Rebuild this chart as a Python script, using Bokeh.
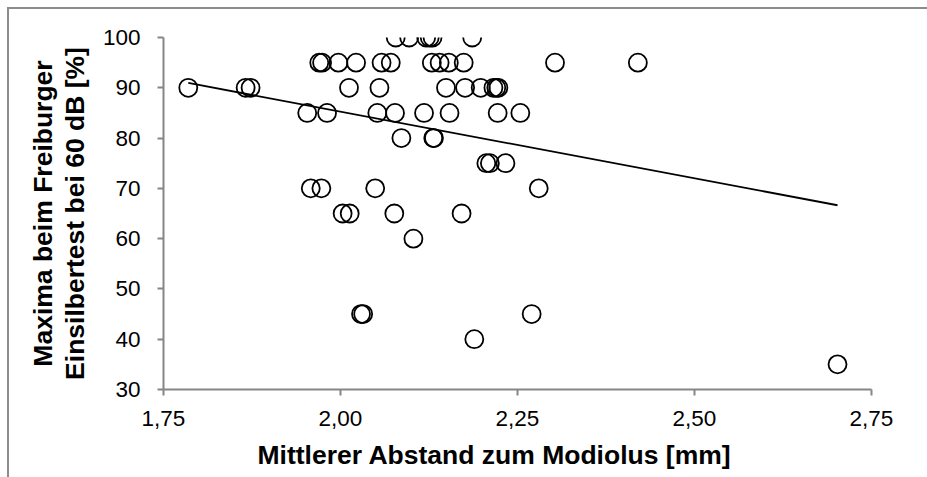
import numpy as np
from bokeh.plotting import figure
from bokeh.models import Range1d, FixedTicker, Title, CustomJSTickFormatter
from bokeh.embed import file_html
from bokeh.resources import INLINE

# --- data ---
# mean distance to modiolus [mm] grouped by score
x_at_100 = [2.078, 2.097, 2.121, 2.126, 2.130, 2.186]
x_at_95 = [1.970, 1.974, 1.997, 2.022, 2.058, 2.071, 2.129, 2.140, 2.153, 2.174, 2.303, 2.420]
x_at_90 = [1.785, 1.866, 1.873, 2.012, 2.055, 2.149, 2.176, 2.198, 2.216, 2.220, 2.223]
x_at_85 = [1.953, 1.981, 2.052, 2.077, 2.118, 2.154, 2.222, 2.254]
x_at_80 = [2.086, 2.131, 2.132]
x_at_75 = [2.206, 2.211, 2.233]
x_at_70 = [1.958, 1.973, 2.049, 2.280]
x_at_65 = [2.003, 2.013, 2.076, 2.171]
x_at_60 = [2.103]
x_at_45 = [2.029, 2.032, 2.270]
x_at_40 = [2.189]
x_at_35 = [2.702]

groups = [(100, x_at_100), (95, x_at_95), (90, x_at_90), (85, x_at_85), (80, x_at_80),
          (75, x_at_75), (70, x_at_70), (65, x_at_65), (60, x_at_60), (45, x_at_45),
          (40, x_at_40), (35, x_at_35)]

x_ticks = [1.75, 2.00, 2.25, 2.50, 2.75]
x_tick_labels = ["1,75", "2,00", "2,25", "2,50", "2,75"]
y_ticks = [30, 40, 50, 60, 70, 80, 90, 100]

x_title = "Mittlerer Abstand zum Modiolus [mm]"
y_title = "Maxima beim Freiburger\nEinsilbertest bei 60 dB [%]"

xs = []
ys = []
for score, vals in groups:
    xs.extend(vals)
    ys.extend([score] * len(vals))
xs = np.array(xs)
ys = np.array(ys, dtype=float)

slope, intercept = np.polyfit(xs, ys, 1)
trend_x = np.array([xs.min(), xs.max()])
trend_y = slope * trend_x + intercept

FONT = "Liberation Sans"
AXIS_GREY = "#868686"

p = figure(width=918, height=468,
           x_range=Range1d(1.75, 2.75), y_range=Range1d(30, 100),
           output_backend="svg", toolbar_location=None,
           min_border_left=154, min_border_right=58,
           min_border_top=28, min_border_bottom=89)
p.outline_line_color = None
p.grid.visible = False
p.background_fill_color = "white"
p.border_fill_color = "white"
p.styles = {"box-sizing": "content-box", "margin-left": "7px", "margin-top": "7px",
            "border-top": "2px solid #8c8c8c", "border-left": "2px solid #8c8c8c"}

p.line(trend_x, trend_y, line_color="black", line_width=1.8)
p.scatter(xs, ys, marker="circle", size=18, fill_color=None,
          line_color="black", line_width=1.8)

for ax in (p.xaxis[0], p.yaxis[0]):
    ax.axis_line_color = AXIS_GREY
    ax.axis_line_width = 2
    ax.major_tick_line_color = AXIS_GREY
    ax.major_tick_line_width = 2
    ax.major_tick_in = 0
    ax.major_tick_out = 6
    ax.minor_tick_line_color = None
    ax.major_label_text_font = FONT
    ax.major_label_text_font_size = "22.5px"
    ax.major_label_text_color = "black"

p.xaxis.ticker = FixedTicker(ticks=x_ticks)
p.xaxis.formatter = CustomJSTickFormatter(
    args=dict(tick_vals=x_ticks, tick_texts=x_tick_labels),
    code="const i = tick_vals.findIndex(t => Math.abs(t - tick) < 1e-9); return i >= 0 ? tick_texts[i] : String(tick);")
p.xaxis.major_label_standoff = 15

p.yaxis.ticker = FixedTicker(ticks=y_ticks)
p.yaxis.major_label_standoff = 17
p.yaxis.axis_label = y_title
p.yaxis.axis_label_text_font = FONT
p.yaxis.axis_label_text_font_size = "26.5px"
p.yaxis.axis_label_text_font_style = "bold"
p.yaxis.axis_label_text_color = "black"
p.yaxis.axis_label_text_line_height = 1.05
p.yaxis.axis_label_standoff = 10

t = Title(text=x_title, align="left", offset=94,
          text_font=FONT, text_font_size="26.5px", text_font_style="bold",
          text_color="black", standoff=19)
p.add_layout(t, "below")

open("out.html", "w").write(file_html(p, INLINE))
